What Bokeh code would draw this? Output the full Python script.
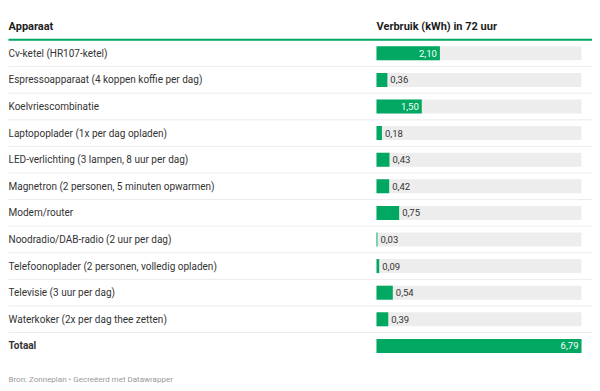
from bokeh.plotting import figure
from bokeh.models import Range1d, ColumnDataSource
from bokeh.core.properties import value
from bokeh.embed import file_html
from bokeh.resources import INLINE

# ---- data ----
apparaten = [
    "Cv-ketel (HR107-ketel)",
    "Espressoapparaat (4 koppen koffie per dag)",
    "Koelvriescombinatie",
    "Laptopoplader (1x per dag opladen)",
    "LED-verlichting (3 lampen, 8 uur per dag)",
    "Magnetron (2 personen, 5 minuten opwarmen)",
    "Modem/router",
    "Noodradio/DAB-radio (2 uur per dag)",
    "Telefoonoplader (2 personen, volledig opladen)",
    "Televisie (3 uur per dag)",
    "Waterkoker (2x per dag thee zetten)",
    "Totaal",
]
verbruik = [2.10, 0.36, 1.50, 0.18, 0.43, 0.42, 0.75, 0.03, 0.09, 0.54, 0.39, 6.79]
kop_links = "Apparaat"
kop_rechts = "Verbruik (kWh) in 72 uur"
bron = "Bron: Zonneplan • Gecreëerd met Datawrapper"

# ---- layout (page pixels) ----
W, H = 592, 390
GREEN = "#00a862"
FONT = value("Roboto")
bar_px0, bar_px1 = 376, 581
left_px, right_px = 8, 592
row0_px, pitch = 52.8, 26.6

vmax = max(verbruik)
k = vmax / (bar_px1 - bar_px0)
x0 = -bar_px0 * k
x1 = vmax + (W - bar_px1) * k
xl = x0 + left_px * k
xr = x0 + right_px * k

def ry(px):
    return (px - row0_px) / pitch

n = len(apparaten)
idx = list(range(n))

p = figure(width=W, height=H, output_backend="svg", toolbar_location=None,
           x_axis_type=None, y_axis_type=None,
           x_range=Range1d(x0, x1), y_range=Range1d(ry(H), ry(0)),
           min_border=0, outline_line_color=None)
p.grid.visible = False
p.background_fill_color = "white"
p.border_fill_color = "white"

# header
hy = ry(26)
p.text(x=[xl], y=[hy], text=[kop_links], text_font=FONT, text_font_style="bold",
       text_font_size="11px", text_color="#1d1d1d", text_baseline="middle")
p.text(x=[0], y=[hy], text=[kop_rechts], text_font=FONT, text_font_style="bold",
       text_font_size="11px", text_color="#1d1d1d", text_baseline="middle")
p.segment(x0=[xl], x1=[xr], y0=[ry(39.3)], y1=[ry(39.3)], line_color=GREEN, line_width=2)

# separators
seps = [i + 0.5 for i in idx[:-1]]
p.segment(x0=[xl] * len(seps), x1=[xr] * len(seps), y0=seps, y1=seps,
          line_color="#ececec", line_width=1)

# row labels
styles = ["normal"] * (n - 1) + ["bold"]
src = ColumnDataSource(dict(y=idx, label=apparaten, v=verbruik, style=styles,
                            full=[vmax] * n, xl=[xl] * n))
p.text(x="xl", y="y", text="label", source=src, text_font=FONT, text_font_size="10px",
       text_font_style="style", text_color="#333333", text_baseline="middle")

# bars
bh = 14 / pitch
p.hbar(y="y", left=0, right="full", height=bh, source=src,
       fill_color="#ededed", line_color=None)
p.hbar(y="y", left=0, right="v", height=bh, source=src,
       fill_color=GREEN, line_color=None)

# value labels
inside = [v >= 1.0 for v in verbruik]
lab = [f"{v:.2f}".replace(".", ",") for v in verbruik]
src_in = ColumnDataSource(dict(y=[i for i in idx if inside[i]],
                               v=[verbruik[i] for i in idx if inside[i]],
                               t=[lab[i] for i in idx if inside[i]]))
src_out = ColumnDataSource(dict(y=[i for i in idx if not inside[i]],
                                v=[verbruik[i] for i in idx if not inside[i]],
                                t=[lab[i] for i in idx if not inside[i]]))
p.text(x="v", y="y", text="t", source=src_in, x_offset=-3,
       text_align="right", text_baseline="middle", text_font=FONT,
       text_font_size="9.5px", text_color="white")
p.text(x="v", y="y", text="t", source=src_out, x_offset=3,
       text_align="left", text_baseline="middle", text_font=FONT,
       text_font_size="9.5px", text_color="#333333")

# footer
p.text(x=[xl], y=[ry(379)], text=[bron], text_font=FONT, text_font_size="8px",
       text_color="#999999", text_baseline="middle")

open("out.html", "w").write(file_html(p, INLINE))
